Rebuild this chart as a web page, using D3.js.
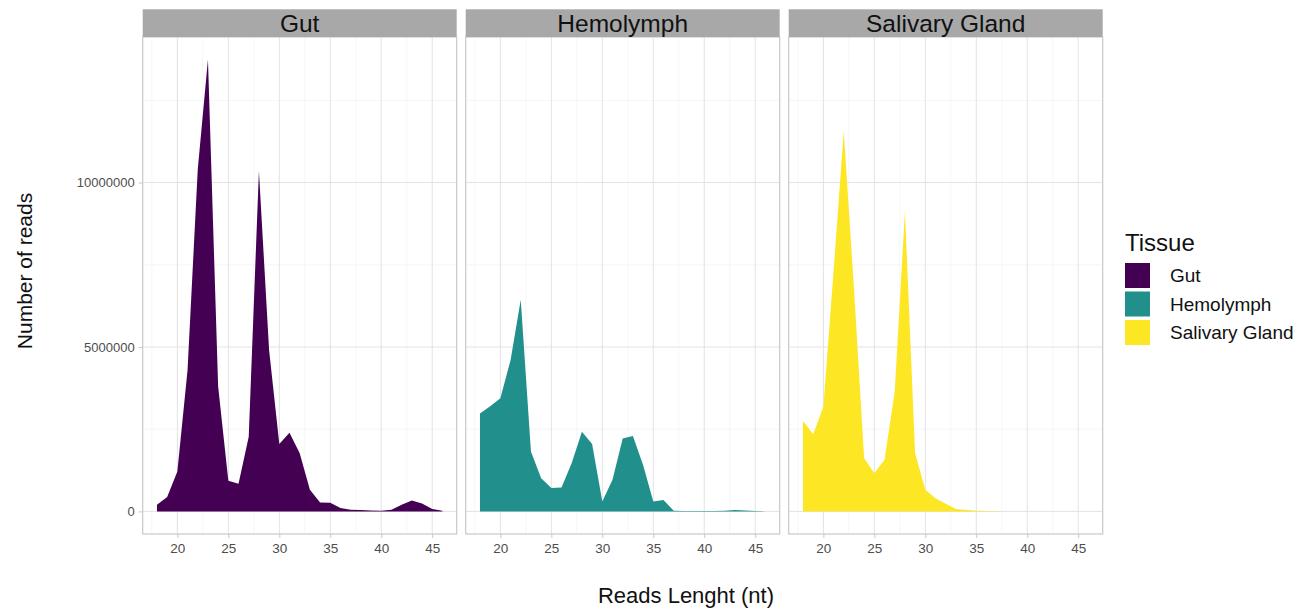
<!DOCTYPE html>
<html>
<head>
<meta charset="utf-8">
<script src="https://cdn.jsdelivr.net/npm/d3@7"></script>
<style>
    body { margin: 0; background: #fff; }
    text { font-family: "Liberation Sans", Arial, sans-serif; }
</style>
</head>
<body>
<div id="chart"></div>
<script>
(function () {

    'use strict';

    // read lengths (nt)
    var readLengths = [18, 19, 20, 21, 22, 23, 24, 25, 26, 27, 28, 29, 30, 31, 32,
        33, 34, 35, 36, 37, 38, 39, 40, 41, 42, 43, 44, 45, 46];

    var gutReads = [200000, 440000, 1210000, 4300000, 10400000, 13740000, 3800000, 930000,
        840000, 2270000, 10350000, 4900000, 2050000, 2390000, 1770000, 660000, 270000,
        260000, 100000, 50000, 40000, 30000, 20000, 50000, 200000, 330000, 240000, 70000, 20000];

    var hemolymphReads = [2980000, 3200000, 3440000, 4600000, 6440000, 1820000, 1010000,
        710000, 730000, 1470000, 2420000, 2050000, 300000, 960000, 2220000, 2290000,
        1410000, 300000, 350000, 20000, 10000, 10000, 10000, 10000, 20000, 40000, 30000, 10000, 0];

    var salivaryReads = [2760000, 2350000, 3180000, 7300000, 11560000, 6800000, 1620000,
        1160000, 1570000, 3640000, 9120000, 1770000, 660000, 400000, 230000, 70000, 40000,
        20000, 10000, 5000, 0, 0, 0, 0, 0, 0, 0, 0, 0];

    var tissues = ['Gut', 'Hemolymph', 'Salivary Gland'];
    var tissueColors = ['#440154', '#21908C', '#FDE725'];
    var seriesList = [gutReads, hemolymphReads, salivaryReads];

    var xTicks = [20, 25, 30, 35, 40, 45];
    var xMinorTicks = [17.5, 22.5, 27.5, 32.5, 37.5, 42.5];
    var yTicks = [0, 5000000, 10000000];
    var yMinorTicks = [2500000, 7500000, 12500000];

    var width = 1312;
    var height = 610;

    var panelLeft = 142.7;
    var panelWidth = 314;
    var panelStep = 323;
    var stripTop = 9.3;
    var panelTop = 37;
    var panelBottom = 534;

    var svg = d3.select('#chart')
        .append('svg')
            .attr('width', width)
            .attr('height', height);

    // shared scales (ggplot style 5% expansion)
    var allValues = gutReads.concat(hemolymphReads, salivaryReads);
    var yMax = d3.max(allValues);
    var yScale = d3.scaleLinear()
        .domain([-0.05 * yMax, yMax * 1.05])
        .range([panelBottom, panelTop]);

    var xExtent = d3.extent(readLengths);
    var xPad = (xExtent[1] - xExtent[0]) * 0.05;

    tissues.forEach(function (tissue, i) {

        var left = panelLeft + i * panelStep;

        var xScale = d3.scaleLinear()
            .domain([xExtent[0] - xPad, xExtent[1] + xPad])
            .range([left, left + panelWidth]);

        var g = svg.append('g');

        // grid
        g.selectAll('.vminor')
            .data(xMinorTicks)
            .enter()
            .append('line')
                .attr('x1', function (d) { return xScale(d); })
                .attr('x2', function (d) { return xScale(d); })
                .attr('y1', panelTop)
                .attr('y2', panelBottom)
                .attr('stroke', '#F0F0F0')
                .attr('stroke-width', 0.6);

        g.selectAll('.hminor')
            .data(yMinorTicks)
            .enter()
            .append('line')
                .attr('x1', left)
                .attr('x2', left + panelWidth)
                .attr('y1', function (d) { return yScale(d); })
                .attr('y2', function (d) { return yScale(d); })
                .attr('stroke', '#F0F0F0')
                .attr('stroke-width', 0.6);

        g.selectAll('.vmajor')
            .data(xTicks)
            .enter()
            .append('line')
                .attr('x1', function (d) { return xScale(d); })
                .attr('x2', function (d) { return xScale(d); })
                .attr('y1', panelTop)
                .attr('y2', panelBottom)
                .attr('stroke', '#E3E3E3')
                .attr('stroke-width', 1);

        g.selectAll('.hmajor')
            .data(yTicks)
            .enter()
            .append('line')
                .attr('x1', left)
                .attr('x2', left + panelWidth)
                .attr('y1', function (d) { return yScale(d); })
                .attr('y2', function (d) { return yScale(d); })
                .attr('stroke', '#E3E3E3')
                .attr('stroke-width', 1);

        // area
        var series = seriesList[i];
        var area = d3.area()
            .x(function (d, j) { return xScale(readLengths[j]); })
            .y0(yScale(0))
            .y1(function (d) { return yScale(d); });

        g.append('path')
            .datum(series)
            .attr('d', area)
            .attr('fill', tissueColors[i]);

        // border
        g.append('rect')
            .attr('x', left)
            .attr('y', panelTop)
            .attr('width', panelWidth)
            .attr('height', panelBottom - panelTop)
            .attr('fill', 'none')
            .attr('stroke', '#C8C8C8')
            .attr('stroke-width', 1.2);

        // strip
        g.append('rect')
            .attr('x', left)
            .attr('y', stripTop)
            .attr('width', panelWidth)
            .attr('height', panelTop - stripTop)
            .attr('fill', '#A8A8A8');

        g.append('text')
            .attr('x', left + panelWidth / 2)
            .attr('y', panelTop - 5)
            .attr('text-anchor', 'middle')
            .style('font-size', '24.5px')
            .attr('fill', '#111')
            .text(tissue);

        // x axis
        var xAxis = d3.axisBottom(xScale)
            .tickValues(xTicks)
            .tickSize(4)
            .tickPadding(5);

        var xAxisG = g.append('g')
            .attr('transform', 'translate(0,' + panelBottom + ')')
            .call(xAxis);

        xAxisG.select('.domain').remove();
        xAxisG.selectAll('line').attr('stroke', '#C8C8C8');
        xAxisG.selectAll('text')
            .attr('fill', '#4D4D4D')
            .style('font-size', '13.5px')
            .style('font-family', '"Liberation Sans", Arial, sans-serif');

        if (i === 0) {
            var yAxis = d3.axisLeft(yScale)
                .tickValues(yTicks)
                .tickFormat(d3.format('d'))
                .tickSize(4)
                .tickPadding(4);

            var yAxisG = g.append('g')
                .attr('transform', 'translate(' + left + ',0)')
                .call(yAxis);

            yAxisG.select('.domain').remove();
            yAxisG.selectAll('line').attr('stroke', '#C8C8C8');
            yAxisG.selectAll('text')
                .attr('fill', '#4D4D4D')
                .style('font-size', '13px')
                .style('font-family', '"Liberation Sans", Arial, sans-serif');
        }
    });

    // axis titles
    svg.append('text')
        .attr('x', 686)
        .attr('y', 603)
        .attr('text-anchor', 'middle')
        .style('font-size', '22px')
        .attr('fill', '#111')
        .text('Reads Lenght (nt)');

    svg.append('text')
        .attr('transform', 'translate(32,271) rotate(-90)')
        .attr('text-anchor', 'middle')
        .style('font-size', '21px')
        .attr('fill', '#111')
        .text('Number of reads');

    // legend
    var legend = svg.append('g')
        .attr('transform', 'translate(1125,0)');

    legend.append('text')
        .attr('x', 0)
        .attr('y', 251)
        .style('font-size', '24px')
        .attr('fill', '#111')
        .text('Tissue');

    var legendItems = legend.selectAll('.legend-item')
        .data(tissues)
        .enter()
        .append('g')
            .attr('transform', function (d, k) {
                return 'translate(0,' + (263 + k * 28.5) + ')';
            });

    legendItems.append('rect')
        .attr('width', 25)
        .attr('height', 25)
        .attr('fill', function (d, k) { return tissueColors[k]; });

    legendItems.append('text')
        .attr('x', 45)
        .attr('y', 19)
        .style('font-size', '19px')
        .attr('fill', '#111')
        .text(function (d) { return d; });

}());
</script>
</body>
</html>
